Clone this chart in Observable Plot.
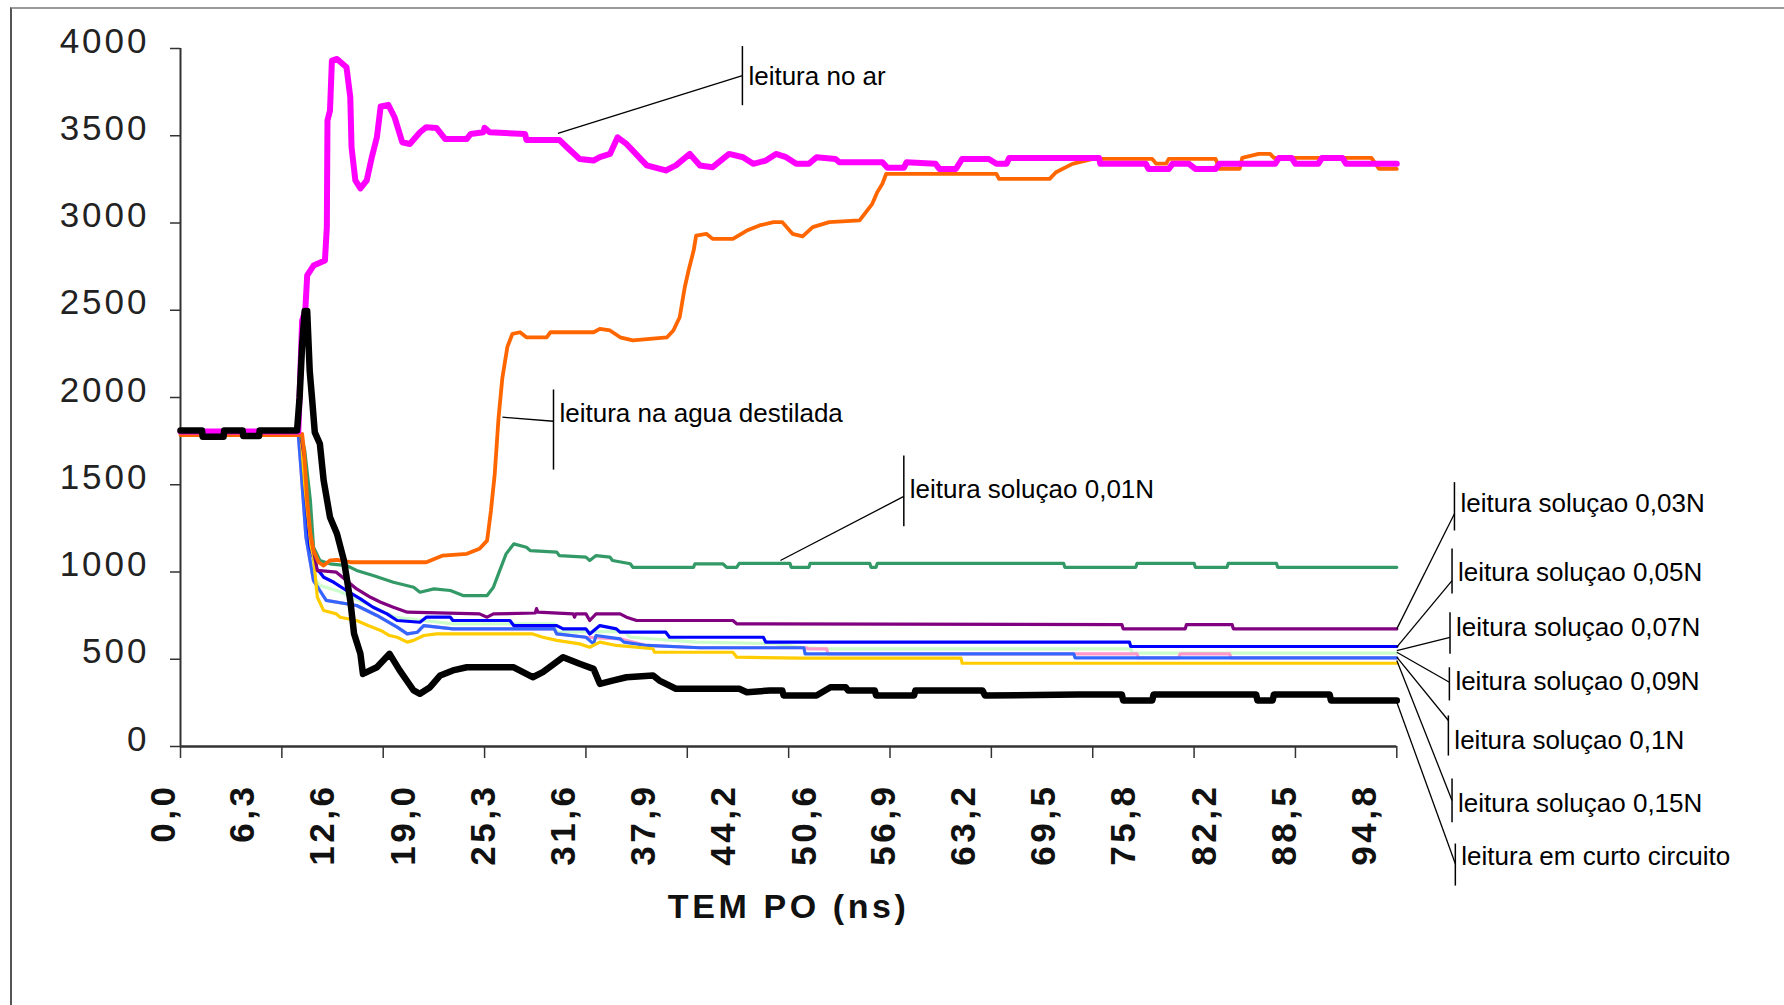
<!DOCTYPE html>
<html>
<head>
<meta charset="utf-8">
<script src="https://cdn.jsdelivr.net/npm/d3@7"></script>
<script src="https://cdn.jsdelivr.net/npm/@observablehq/plot@0.6"></script>
<style>
  html, body { margin: 0; padding: 0; background: #ffffff; }
  #wrap { position: relative; width: 1784px; height: 1005px; overflow: hidden; background: #fff; }
  #border { position: absolute; left: 10px; top: 7px; right: -20px; bottom: -20px;
            border-left: 2px solid #555; border-top: 2px solid #9a9a9a; pointer-events: none; }
</style>
</head>
<body>
<div id="wrap"><div id="border"></div></div>
<script>
// ---------- data (time in ns, reading value) ----------
const yTicks = [0, 500, 1000, 1500, 2000, 2500, 3000, 3500, 4000];
const xTickVals = [0, 8, 16, 24, 32, 40, 48, 56, 64, 72, 80, 88, 96];
const xLabels = ["0,0","6,3","12,6","19,0","25,3","31,6","37,9","44,2","50,6","56,9","63,2","69,5","75,8","82,2","88,5","94,8"];
const xTitle = "TEM PO (ns)";

const noAr = [[0,1805],[9.3,1805],[9.6,2441],[9.85,2499],[10.0,2700],[10.5,2756],[11.4,2785],[11.55,2976],[11.6,3587],[11.8,3645],[11.95,3931],[12.35,3940],[13.1,3893],[13.4,3721],[13.5,3434],[13.8,3244],[14.2,3198],[14.7,3244],[15.1,3377],[15.5,3491],[15.8,3668],[16.4,3677],[16.9,3606],[17.5,3463],[18.1,3453],[18.9,3520],[19.4,3549],[20.2,3545],[20.9,3481],[22.6,3481],[22.9,3510],[23.9,3520],[24.0,3545],[24.4,3520],[27.2,3510],[27.3,3476],[29.9,3476],[30.5,3434],[31.5,3367],[32.6,3358],[33.1,3377],[33.9,3396],[34.5,3491],[35.2,3453],[35.7,3415],[36.8,3330],[38.3,3301],[39.1,3330],[40.2,3396],[41,3330],[42,3320],[43.3,3396],[44.4,3377],[45.2,3339],[46.2,3358],[47,3396],[47.8,3377],[48.6,3339],[49.6,3339],[50.2,3377],[51.7,3367],[52,3348],[55.4,3348],[55.8,3316],[57.1,3316],[57.3,3348],[59.6,3339],[59.9,3310],[61.2,3310],[61.7,3367],[63.8,3367],[64.4,3339],[65.2,3339],[65.4,3373],[72.5,3373],[72.6,3339],[76.2,3339],[76.4,3310],[78,3310],[78.3,3339],[79.6,3339],[80.1,3310],[81.7,3310],[82,3339],[86.4,3339],[86.7,3373],[87.7,3373],[88,3339],[89.8,3339],[90.1,3373],[91.7,3373],[92,3339],[96,3339]];

const aguaDestilada = [[0,1785],[9.4,1785],[9.6,1791],[9.75,1696],[10,1410],[10.25,1220],[10.5,1123],[10.9,1056],[11.3,1037],[11.8,1066],[12.35,1070],[13.4,1056],[19.4,1056],[20.7,1094],[22.6,1104],[23.6,1133],[24.2,1180],[24.5,1350],[24.8,1560],[25.1,1880],[25.4,2110],[25.8,2290],[26.2,2365],[26.8,2374],[27.3,2345],[28.9,2345],[29.2,2374],[32.6,2374],[33.1,2393],[33.9,2384],[34.7,2345],[35.7,2327],[38.4,2345],[38.9,2384],[39.4,2460],[39.8,2632],[40.1,2728],[40.5,2842],[40.7,2928],[41.5,2938],[42,2909],[43.6,2909],[44.7,2957],[45.7,2986],[46.8,3005],[47.5,3005],[48.3,2938],[49.1,2923],[49.9,2976],[51.2,3005],[53.6,3015],[54.1,3062],[54.6,3110],[55,3177],[55.4,3225],[55.7,3282],[64.4,3282],[64.6,3253],[68.6,3253],[69.1,3291],[70.4,3339],[72,3367],[76.7,3367],[77,3340],[77.8,3340],[78,3367],[81.7,3367],[82,3310],[83.6,3310],[83.8,3373],[85.1,3396],[86,3396],[86.3,3373],[94,3373],[94.6,3310],[96,3310]];

const sol001 = [[0,1785],[9.5,1785],[9.8,1700],[10.25,1410],[10.5,1142],[11,1066],[11.8,1047],[13.1,1037],[13.9,1009],[15.2,980],[16.8,941],[18.4,913],[18.9,884],[20,903],[21.3,894],[22.3,865],[24.2,865],[24.7,913],[25.2,1009],[25.7,1104],[26.3,1161],[27.3,1142],[27.6,1123],[29.7,1114],[29.9,1094],[32,1085],[32.3,1066],[32.8,1094],[33.9,1085],[34.1,1066],[35.5,1047],[35.7,1027],[40.5,1027],[40.6,1047],[42.8,1047],[43.1,1027],[43.9,1027],[44.1,1050],[48.1,1050],[48.2,1027],[49.6,1027],[49.7,1050],[54.4,1050],[54.5,1027],[54.9,1027],[55,1050],[69.7,1050],[69.8,1027],[75.4,1027],[75.5,1050],[80,1050],[80.1,1027],[82.6,1027],[82.7,1050],[86.5,1050],[86.6,1027],[96,1027]];

const sol003 = [[0,1785],[9.5,1785],[9.9,1600],[10.3,1200],[10.8,1009],[12.3,999],[13.1,951],[13.9,903],[15,855],[15.8,827],[16.8,798],[17.9,770],[23.6,760],[24.2,741],[24.7,760],[28,765],[28.1,790],[28.2,770],[31,760],[31.1,741],[31.2,760],[32.0,760],[32.3,722],[32.8,760],[34.7,760],[35.2,741],[36,722],[43.6,722],[43.9,703],[74.3,699],[74.4,674],[79.3,674],[79.4,699],[83,699],[83.1,674],[96,674]];

const sol005 = [[0,1785],[9.5,1785],[9.8,1500],[10.2,1150],[10.8,1009],[11,999],[11.3,970],[12.1,941],[13.1,894],[14.2,846],[15.2,798],[16.3,760],[17.1,722],[18.9,712],[19.4,741],[21.3,741],[21.5,722],[26,722],[26.3,693],[29.7,693],[30.2,674],[32,674],[32.3,645],[33.1,693],[34.4,674],[34.7,655],[38.3,655],[38.6,626],[46,626],[46.2,598],[74.9,598],[75,573],[96,573]];

const sol007 = [[0,1785],[9.5,1785],[9.7,1500],[10.1,1150],[10.6,960],[11,923],[12.5,890],[14,840],[15.5,790],[17,740],[19.2,722],[21.5,703],[29.5,703],[29.7,655],[35,660],[35.5,626],[40.7,598],[47,589],[49.2,566],[51,560],[75,560],[75.1,535],[96,535]];

const sol009 = [[0,1785],[9.3,1785],[9.5,1600],[9.9,1200],[10.5,950],[11,894],[11.5,837],[13.9,808],[15.5,751],[17.1,684],[17.9,645],[18.7,655],[19.2,693],[21.5,674],[29.5,674],[29.7,645],[32,626],[32.6,588],[32.8,636],[34.7,617],[35,598],[36.8,579],[41,566],[49.2,566],[49.3,531],[70.5,531],[70.6,508],[96,508]];

const sol01 = [[0,1785],[9.3,1785],[9.5,1600],[9.9,1200],[10.5,950],[11,894],[11.5,837],[13.9,808],[15.5,751],[17.1,684],[17.9,645],[18.7,655],[19.2,693],[21.5,674],[29.5,674],[29.7,645],[32,626],[34.7,617],[36.8,579],[41,566],[49.4,566],[49.5,560],[51,560],[51.1,531],[75.5,531],[75.6,508],[78.8,508],[78.9,531],[82.8,531],[82.9,508],[96,508]];

const sol015 = [[0,1785],[9.5,1785],[9.8,1500],[10.3,1150],[10.5,1085],[10.8,855],[11.3,779],[12.3,760],[12.6,741],[13.9,722],[14.8,693],[15.8,665],[16.5,636],[17.1,626],[17.9,598],[18.4,608],[19.2,636],[20.2,645],[27.8,645],[28.6,626],[29.7,608],[31.5,588],[32.3,569],[33.1,598],[34.4,579],[37.3,560],[37.4,540],[43.6,540],[43.9,512],[49,506],[61.6,506],[61.7,477],[96,477]];

const curto = [[0,1811],[1.7,1811],[1.75,1775],[3.4,1775],[3.45,1811],[4.9,1811],[4.95,1780],[6.2,1780],[6.25,1811],[9.2,1811],[9.4,2000],[9.6,2300],[9.8,2495],[10.0,2495],[10.2,2150],[10.4,1980],[10.6,1800],[11,1735],[11.3,1524],[11.8,1314],[12.35,1219],[12.9,1066],[13.4,837],[13.7,646],[14.2,531],[14.4,416],[15.5,454],[16.5,531],[17.3,436],[18.4,321],[18.9,302],[19.7,340],[20.5,407],[21.5,436],[22.6,454],[26.3,454],[27.8,397],[28.6,426],[30.2,512],[31.5,474],[32.6,445],[33.1,359],[34.1,378],[35.2,397],[37.3,407],[37.8,378],[39.1,331],[44.1,331],[44.7,311],[46.5,321],[47.5,321],[47.6,292],[50.2,292],[51.3,340],[52.5,340],[52.7,321],[54.8,321],[54.9,292],[57.9,292],[58,321],[63.3,321],[63.5,292],[70.9,298],[74.3,298],[74.4,264],[76.7,264],[76.8,298],[84.9,298],[85,264],[86.2,264],[86.3,298],[90.7,298],[90.8,264],[96,264]];

// annotation anchors in data units: point on line (pt,pv), bar at bt from bv1 to bv2, leader end (bt, lv), text level tv
const annotations = [
  {label: "leitura no ar",              pt: 29.79, pv: 3513, bt: 44.35,  bv1: 4014, bv2: 3675, lv: 3845, tv: 3840},
  {label: "leitura na agua destilada",  pt: 25.41, pv: 1887, bt: 29.44,  bv1: 2046, bv2: 1587, lv: 1864, tv: 1908},
  {label: "leitura soluçao 0,01N",      pt: 47.35, pv: 1066, bt: 57.09,  bv1: 1668, bv2: 1262, lv: 1433, tv: 1473},
  {label: "leitura soluçao 0,03N",      pt: 96.0,  pv: 674,  bt: 100.55, bv1: 1515, bv2: 1238, lv: 1334, tv: 1393},
  {label: "leitura soluçao 0,05N",      pt: 96.0,  pv: 569,  bt: 100.36, bv1: 1135, bv2: 877,  lv: 951,  tv: 994},
  {label: "leitura soluçao 0,07N",      pt: 96.0,  pv: 550,  bt: 100.2,  bv1: 770,  bv2: 531,  lv: 626,  tv: 679},
  {label: "leitura soluçao 0,09N",      pt: 96.0,  pv: 540,  bt: 100.15, bv1: 454,  bv2: 264,  lv: 368,  tv: 370},
  {label: "leitura soluçao 0,1N",       pt: 96.0,  pv: 512,  bt: 100.07, bv1: 178,  bv2: -52,  lv: 149,  tv: 34},
  {label: "leitura soluçao 0,15N",      pt: 96.0,  pv: 493,  bt: 100.36, bv1: -183, bv2: -434, lv: -309, tv: -327},
  {label: "leitura em curto circuito",  pt: 96.0,  pv: 254,  bt: 100.62, bv1: -556, bv2: -797, lv: -672, tv: -630}
];

// ---------- styles ----------
const seriesStyle = [
  {pts: sol007, color: "#CCFFCC", w: 3.2},
  {pts: sol01,  color: "#FF99CC", w: 3.2},
  {pts: sol009, color: "#3366FF", w: 3.2},
  {pts: sol005, color: "#0000FF", w: 3.2},
  {pts: sol015, color: "#FFCC00", w: 3.2},
  {pts: sol003, color: "#800080", w: 3.2},
  {pts: sol001, color: "#339966", w: 3.2},
  {pts: aguaDestilada, color: "#FF6600", w: 3.8},
  {pts: noAr,   color: "#FF00FF", w: 6},
  {pts: curto,  color: "#000000", w: 6.5}
];

const FONT = "'Liberation Sans', Arial, Helvetica, sans-serif";
const xLabelVals = xLabels.map(s => parseFloat(s.replace(",", ".")));

const lineMarks = seriesStyle.map(s =>
  Plot.line(s.pts, {x: d => d[0], y: d => d[1], stroke: s.color, strokeWidth: s.w, strokeLinejoin: "round"})
);

const chart = Plot.plot({
  width: 1784,
  height: 1005,
  marginLeft: 180,
  marginRight: 387.7,
  marginTop: 48,
  marginBottom: 259,
  x: {domain: [0, 96], axis: null},
  y: {domain: [0, 4000], axis: null},
  style: {background: "#ffffff", fontFamily: FONT, color: "#111"},
  marks: [
    // axis ticks and y axis line
    Plot.axisY({ticks: yTicks, tickSize: 10, tickFormat: () => "", stroke: "#333", strokeWidth: 1.5}),
    Plot.axisX({ticks: xTickVals, tickSize: 12, tickFormat: () => "", stroke: "#333", strokeWidth: 1.5}),
    Plot.ruleX([0], {y1: 0, y2: 4000, stroke: "#333", strokeWidth: 2}),
    // y tick labels
    Plot.text(yTicks, {y: d => d, frameAnchor: "left", text: d => String(d), textAnchor: "end",
      dx: -31, dy: -7, fontSize: 35, fill: "#222"}),
    // x tick labels (rotated)
    Plot.text(xLabelVals, {x: d => d, frameAnchor: "bottom", text: (d, i) => xLabels[i], rotate: -90,
      textAnchor: "end", dx: -6, dy: 37, fontSize: 35, fontWeight: "bold", fill: "#111"}),
    // x axis title
    Plot.text([xTitle], {frameAnchor: "bottom", text: d => d, dy: 171, fontSize: 34, fontWeight: "bold", fill: "#111"}),
    // series
    ...lineMarks,
    // x axis line on top
    Plot.ruleY([0], {x1: 0, x2: 96, stroke: "#333", strokeWidth: 2.5}),
    // annotations
    Plot.link(annotations, {x1: "pt", y1: "pv", x2: "bt", y2: "lv", stroke: "#000", strokeWidth: 1.3}),
    Plot.link(annotations, {x1: "bt", y1: "bv1", x2: "bt", y2: "bv2", stroke: "#000", strokeWidth: 1.5}),
    Plot.text(annotations, {x: "bt", y: "tv", text: "label", textAnchor: "start", dx: 6, fontSize: 26, fill: "#000"})
  ]
});

// letter spacing for the axis texts (order of text marks: y labels, x labels, x title, annotations)
const textGroups = chart.querySelectorAll('g[aria-label="text"]');
const spacing = ["3px", "3.5px", "3.6px", "0px"];
textGroups.forEach((g, i) => { if (spacing[i]) g.style.letterSpacing = spacing[i]; });

document.getElementById("wrap").insertBefore(chart, document.getElementById("border"));
</script>
</body>
</html>
